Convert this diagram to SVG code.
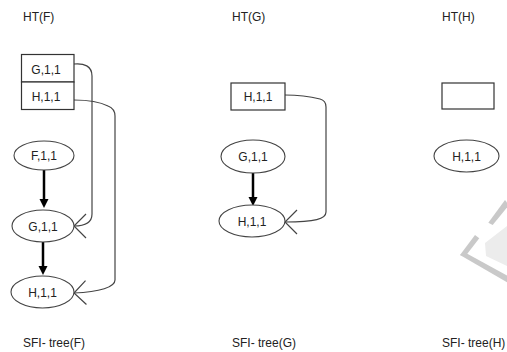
<svg xmlns="http://www.w3.org/2000/svg" width="507" height="352" viewBox="0 0 507 352">
<defs>
<style>
text{font-family:"Liberation Sans",Arial,sans-serif;font-size:12px;fill:#222}
.lbl{text-anchor:middle;font-size:12px}
.cell{fill:#fff;stroke:#333;stroke-width:1.2}
.ell{fill:#fff;stroke:#444;stroke-width:1.1}
.conn{fill:none;stroke:#444;stroke-width:1.2}
.bold{fill:none;stroke:#000;stroke-width:2.5}
</style>
<marker id="vopen" markerUnits="userSpaceOnUse" markerWidth="30" markerHeight="30" viewBox="-15 -15 30 30" refX="0" refY="0" orient="auto" overflow="visible">
<path d="M-12,-12 L0,0 L-12,12" fill="none" stroke="#444" stroke-width="1.2"/>
</marker>
<marker id="solid" markerUnits="userSpaceOnUse" markerWidth="12" markerHeight="12" viewBox="0 -6 12 12" refX="1" refY="0" orient="auto" overflow="visible">
<path d="M0,-4.5 L9,0 L0,4.5 z" fill="#000"/>
</marker>
</defs>
<rect width="507" height="352" fill="#fff"/>

<g id="watermark">
<polygon points="485,243 507,226 507,266 486,256" fill="#ececec"/>
<polygon points="505,200 509,205 492.7,225 488.3,222.7" fill="#c9c9c9"/>
<polygon points="475,235 479.3,238.3 465,256.7 460,255" fill="#c9c9c9"/>
<polygon points="460,255 465,252.5 509,276.7 509,283.3" fill="#c9c9c9"/>
</g>

<g id="titles">
<text x="23" y="21">HT(F)</text>
<text x="232" y="21">HT(G)</text>
<text x="442" y="21">HT(H)</text>
<text x="23" y="347">SFI- tree(F)</text>
<text x="232" y="347">SFI- tree(G)</text>
<text x="442" y="347">SFI- tree(H)</text>
</g>

<g id="connectors">
<path class="conn" d="M74,64 C84,63 92,66 92,76 L92,214 C92,222 86,226 74,226" marker-end="url(#vopen)"/>
<path class="conn" d="M74,100 C88,100 100,102 108,106 C113,108 115,111 115,116 L115,280 C115,287 100,292 74,293" marker-end="url(#vopen)"/>
<path class="conn" d="M285,95 C300,95 312,97 320,99 C324,100 326,102 326,107 L326,212 C326,219 315,222 285,222" marker-end="url(#vopen)"/>
<line class="bold" x1="44" y1="170" x2="44" y2="200" marker-end="url(#solid)"/>
<line class="bold" x1="43" y1="242" x2="43" y2="267" marker-end="url(#solid)"/>
<line class="bold" x1="253" y1="172" x2="253" y2="198" marker-end="url(#solid)"/>
</g>

<g id="htF">
<rect class="cell" x="21.5" y="54.5" width="52.5" height="27.5"/>
<text class="lbl" x="46" y="74">G,1,1</text>
<rect class="cell" x="21.5" y="82" width="52.5" height="27.5"/>
<text class="lbl" x="46" y="101">H,1,1</text>
</g>
<g id="F-F">
<ellipse class="ell" cx="44" cy="155.5" rx="30" ry="14.5"/>
<text class="lbl" x="44" y="160">F,1,1</text>
</g>
<g id="F-G">
<ellipse class="ell" cx="43" cy="226" rx="31" ry="16"/>
<text class="lbl" x="43" y="230.5">G,1,1</text>
</g>
<g id="F-H">
<ellipse class="ell" cx="42.5" cy="292" rx="31.5" ry="16"/>
<text class="lbl" x="42.5" y="296.5">H,1,1</text>
</g>

<g id="htG">
<rect class="cell" x="231" y="83" width="54" height="27"/>
<text class="lbl" x="258" y="101">H,1,1</text>
</g>
<g id="G-G">
<ellipse class="ell" cx="253" cy="156.5" rx="32" ry="16.5"/>
<text class="lbl" x="253" y="161">G,1,1</text>
</g>
<g id="G-H">
<ellipse class="ell" cx="252" cy="221" rx="33" ry="16"/>
<text class="lbl" x="252" y="225.5">H,1,1</text>
</g>

<g id="htH">
<rect class="cell" x="442" y="83" width="52" height="26"/>
</g>
<g id="H-H">
<ellipse class="ell" cx="466.5" cy="156" rx="32.5" ry="16"/>
<text class="lbl" x="466.5" y="160.5">H,1,1</text>
</g>
</svg>
